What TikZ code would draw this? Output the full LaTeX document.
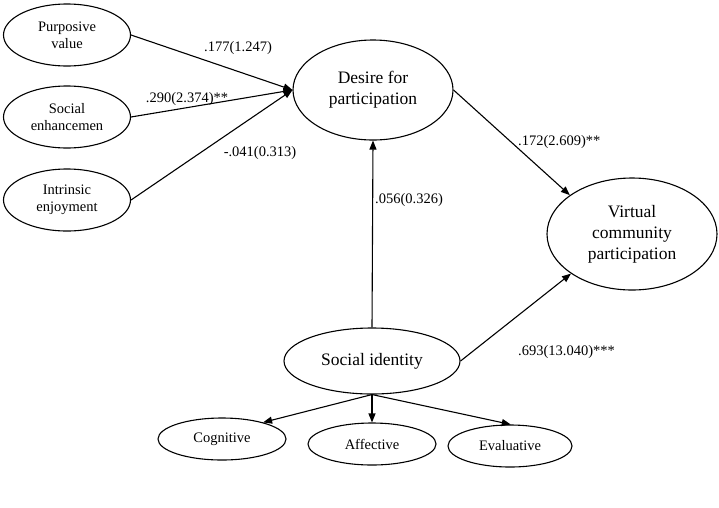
\documentclass[tikz,border=0pt]{standalone}
\usepackage{fontspec}
\setmainfont{Liberation Serif}
\usetikzlibrary{shapes.geometric,arrows.meta}
\begin{document}
\begin{tikzpicture}[x=1pt,y=-1pt,
  ell/.style={draw,ellipse,line width=1.1pt,inner sep=0pt,align=center},
  smell/.style={ell,minimum width=127pt,minimum height=62pt,font=\fontsize{14.5}{17}\selectfont},
  bigell/.style={ell,font=\fontsize{17.5}{21}\selectfont},
  botell/.style={ell,minimum width=128pt,minimum height=42pt,font=\fontsize{14.5}{17}\selectfont},
  coef/.style={inner sep=0pt,font=\fontsize{14.5}{17}\selectfont},
  arr/.style={line width=1.1pt,-{Triangle[length=9pt,width=7pt]}}]
\useasboundingbox (0,0) rectangle (719,507);
\node[smell] (pv) at (67,35) {Purposive\\value};
\node[smell] (se) at (67,117) {Social\\enhancemen};
\node[smell] (ie) at (67,200) {Intrinsic\\enjoyment};
\node[bigell,minimum width=160pt,minimum height=100pt] (des) at (373,90) {Desire for\\participation};
\node[bigell,minimum width=170pt,minimum height=112pt] (vcp) at (632,234) {Virtual\\community\\participation};
\node[bigell,minimum width=176pt,minimum height=66pt] (si) at (372,361) {Social identity};
\node[botell] (cog) at (222,439) {Cognitive};
\node[botell] (aff) at (372,444) {Affective};
\node[botell,minimum width=124pt] (eva) at (510,446) {Evaluative};
\draw[arr] (pv.east) -- (des.west);
\draw[arr] (se.east) -- (des.west);
\draw[arr] (ie.east) -- (des.west);
\draw[arr] (des.east) -- (vcp.148);
\draw[arr] (si.east) -- (vcp.213);
\draw[arr] (si.north) -- (des.south);
\draw[arr] (si.south) -- (cog.22);
\draw[arr] (si.south) -- (aff.north);
\draw[arr] (si.south) -- (eva.88);
\node[coef] (l1) at (238,48) {.177(1.247)};
\node[coef] (l2) at (187,99) {.290(2.374)**};
\node[coef] (l3) at (260,153) {-.041(0.313)};
\node[coef,anchor=west] (l4) at (375,200) {.056(0.326)};
\node[coef,anchor=west] (l5) at (518,142) {.172(2.609)**};
\node[coef,anchor=west] (l6) at (518,352) {.693(13.040)***};
\end{tikzpicture}
\end{document}
